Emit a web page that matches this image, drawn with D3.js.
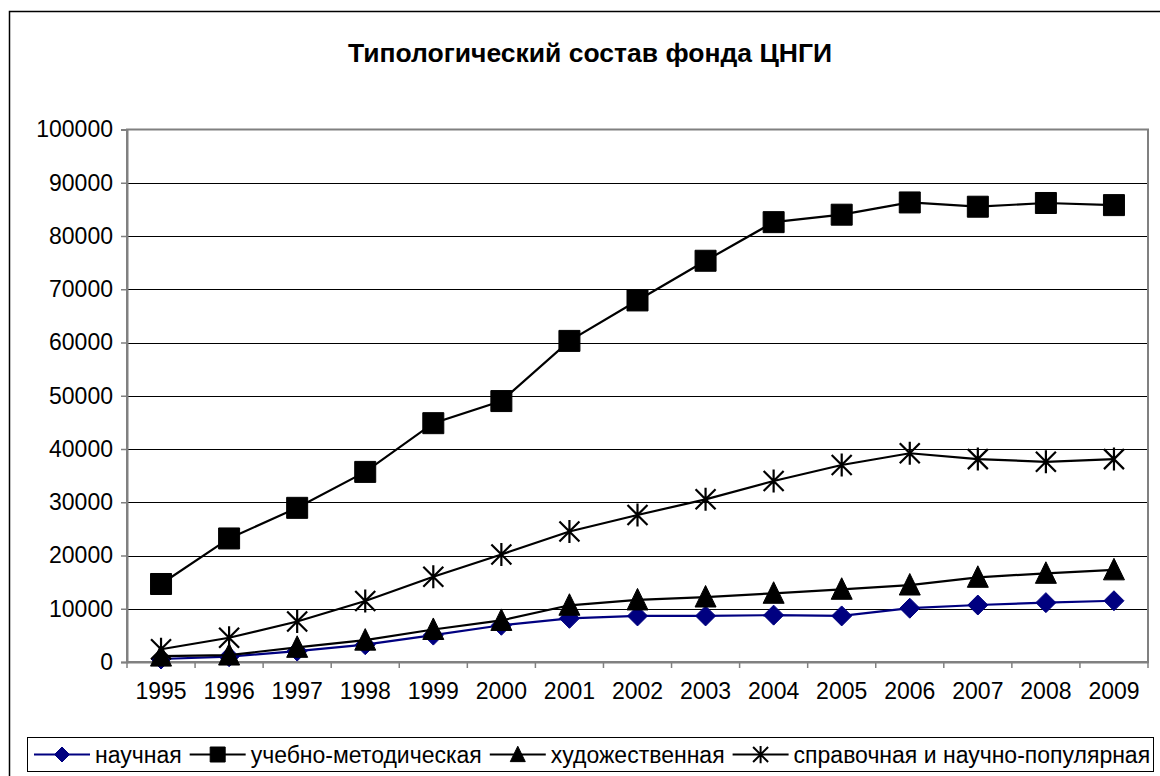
<!DOCTYPE html>
<html><head><meta charset="utf-8">
<script src="https://cdn.jsdelivr.net/npm/d3@7"></script>
<style>body{margin:0;background:#fff;} svg{display:block;font-family:"Liberation Sans",Arial,sans-serif;}</style>
</head><body>
<svg id="c" width="1160" height="776"></svg>
<script>
const title = "Типологический состав фонда ЦНГИ";
const years = ["1995","1996","1997","1998","1999","2000","2001","2002","2003","2004","2005","2006","2007","2008","2009"];
const seriesNames = ["научная","учебно-методическая","художественная","справочная и научно-популярная"];
const nauchnaya = [560,1000,2050,3250,5050,6900,8200,8650,8650,8800,8650,10100,10700,11150,11500];
const uchebnaya = [14650,23200,28950,35700,44850,49000,60300,67900,75350,82600,84000,86300,85500,86200,85800];
const khudozh = [1100,1300,2750,4100,6100,7800,10650,11650,12200,12900,13650,14450,15900,16650,17300];
const spravoch = [2400,4550,7600,11450,16000,20200,24500,27600,30550,34000,37000,39200,38100,37600,38100];
const yTicks = [0,10000,20000,30000,40000,50000,60000,70000,80000,90000,100000];

const seriesValues = [nauchnaya, uchebnaya, khudozh, spravoch];
const colors = ["#000080","#000000","#000000","#000000"];
const markers = ["diamond","square","triangle","star"];

const svg = d3.select("#c");
const L = 127, R = 1148, T = 129.5, B = 662;
const FS = "23px";

// outer frame
svg.append("rect").attr("x",9.5).attr("y",11.5).attr("width",1160).attr("height",800)
  .attr("fill","none").attr("stroke","#000").attr("stroke-width",1.5);

svg.append("text").attr("x",590).attr("y",62).attr("text-anchor","middle")
  .attr("font-size","26.5px").attr("font-weight","bold").text(title);

const x = d3.scaleBand().domain(years).range([L,R]).padding(0);
const y = d3.scaleLinear().domain([0,100000]).range([B,T]);

// gridlines
svg.append("g").selectAll("line").data(yTicks.slice(1,-1)).join("line")
  .attr("x1",L).attr("x2",R).attr("y1",d=>Math.round(y(d))+0.5).attr("y2",d=>Math.round(y(d))+0.5)
  .attr("stroke","#000").attr("stroke-width",1);

// plot border (gray)
svg.append("rect").attr("x",L).attr("y",T).attr("width",R-L).attr("height",B-T)
  .attr("fill","none").attr("stroke","#808080").attr("stroke-width",2);

// y axis
const yAxis = d3.axisLeft(y).tickValues(yTicks).tickSize(6).tickPadding(8).tickFormat(d3.format("d"));
const gy = svg.append("g").attr("transform",`translate(${L},0)`).call(yAxis);
gy.select(".domain").attr("stroke","#808080").attr("stroke-width",2);
gy.selectAll(".tick line").attr("stroke","#808080").attr("stroke-width",1.5);
gy.selectAll(".tick text").attr("font-size",FS).attr("fill","#000").attr("font-family","Liberation Sans, Arial, sans-serif");

// x axis
const xAxis = d3.axisBottom(x).tickSize(0).tickPadding(21);
const gx = svg.append("g").attr("transform",`translate(0,${B})`).call(xAxis);
gx.select(".domain").attr("stroke","#808080").attr("stroke-width",2);
gx.selectAll(".tick text").attr("font-size",FS).attr("fill","#000").attr("font-family","Liberation Sans, Arial, sans-serif");
// category boundary ticks
svg.append("g").selectAll("line").data(d3.range(years.length+1)).join("line")
  .attr("x1",i=>L+i*x.bandwidth()).attr("x2",i=>L+i*x.bandwidth())
  .attr("y1",B).attr("y2",B+6).attr("stroke","#808080").attr("stroke-width",1.5);

function markerPath(type, s){
  if(type==="diamond") return `M0,${-s}L${s},0L0,${s}L${-s},0Z`;
  if(type==="square") return `M${-s},${-s}H${s}V${s}H${-s}Z`;
  if(type==="triangle") return `M0,${-s*1.1}L${s},${s*0.95}L${-s},${s*0.95}Z`;
  if(type==="star") return `M${-s},${-s}L${s},${s}M${-s},${s}L${s},${-s}M0,${-s*1.15}V${s*1.15}`;
}
const mSize = {diamond:10, square:10.5, triangle:10.5, star:10};

const line = d3.line().x((d,i)=>x(years[i])+x.bandwidth()/2).y(d=>y(d));
seriesValues.forEach((vals,si)=>{
  const g = svg.append("g");
  g.append("path").datum(vals).attr("d",line).attr("fill","none")
    .attr("stroke",colors[si]).attr("stroke-width",2.2);
  const m = markers[si];
  g.selectAll("path.m").data(vals).join("path").attr("class","m")
    .attr("transform",(d,i)=>`translate(${x(years[i])+x.bandwidth()/2},${y(d)})`)
    .attr("d",markerPath(m,mSize[m]))
    .attr("fill",m==="star"?"none":colors[si])
    .attr("stroke",colors[si]).attr("stroke-width",m==="star"?2.2:1);
});

// legend
const lg = svg.append("g");
lg.append("rect").attr("x",27.5).attr("y",737.5).attr("width",1126).attr("height",34)
  .attr("fill","#fff").attr("stroke","#000").attr("stroke-width",1);
let cx = 34;
const ly = 754.5;
seriesNames.forEach((name,si)=>{
  const m = markers[si];
  lg.append("line").attr("x1",cx).attr("x2",cx+56).attr("y1",ly).attr("y2",ly)
    .attr("stroke",colors[si]).attr("stroke-width",2.2);
  lg.append("path").attr("transform",`translate(${cx+28},${ly})`)
    .attr("d",markerPath(m,7.5))
    .attr("fill",m==="star"?"none":colors[si]).attr("stroke",colors[si]).attr("stroke-width",m==="star"?2:1);
  const t = lg.append("text").attr("x",cx+61).attr("y",ly+8).attr("font-size",FS).text(name);
  cx = cx + 61 + t.node().getComputedTextLength() + 8;
});
</script>
</body></html>
